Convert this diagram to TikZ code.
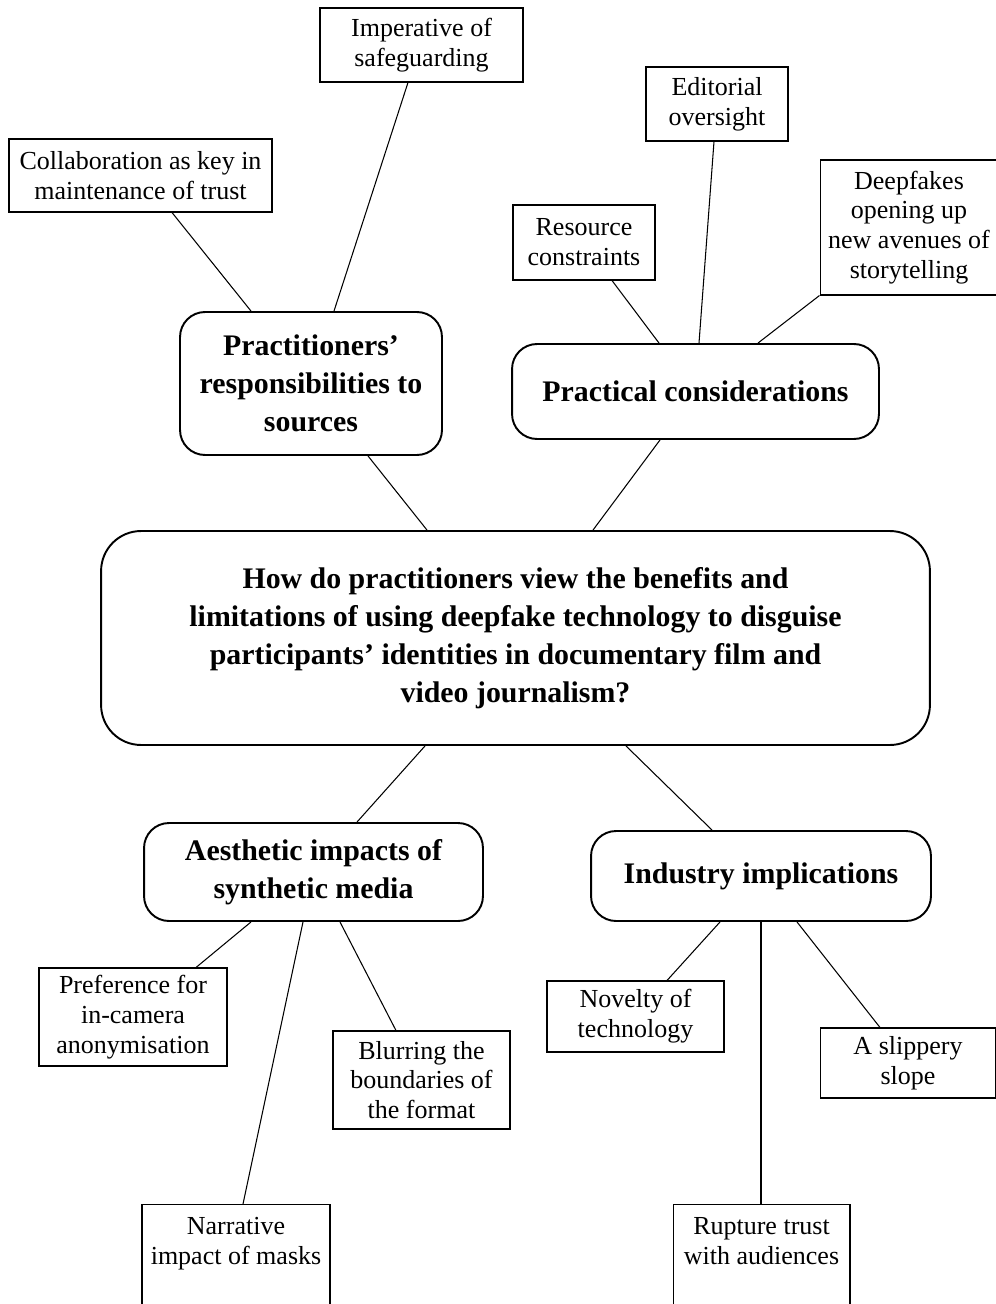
\documentclass[tikz,border=0pt]{standalone}
\usepackage{fontspec}
\setmainfont{Liberation Serif}

\begin{document}
\begin{tikzpicture}[x=0.02cm,y=-0.02cm,line width=0.6pt,
                    leaf/.style={draw,align=center,inner sep=0pt,font=\fontsize{14.8}{17}\selectfont},
                    topic/.style={draw,line width=1.1pt,rounded corners=0.5cm,align=center,inner sep=0pt,
                                  font=\bfseries\fontsize{17}{21.6}\selectfont}
                   ]
  \useasboundingbox (0,0) rectangle (995,1304);
  % centre question
  \node[topic,rounded corners=0.8cm,minimum width=16.58cm,minimum height=4.28cm] (main) at (515.5,638)
    {How do practitioners view the benefits and\\
     limitations of using deepfake technology to disguise\\
     participants’ identities in documentary film and\\
     video journalism?};
  % themes
  \node[topic,minimum width=5.24cm,minimum height=2.86cm] (resp) at (311,383.5) {Practitioners’\\responsibilities to\\sources};
  \node[topic,minimum width=7.34cm,minimum height=1.9cm] (prac) at (695.5,391.5) {Practical considerations};
  \node[topic,minimum width=6.78cm,minimum height=1.96cm] (aes) at (313.5,872) {Aesthetic impacts of\\synthetic media};
  \node[topic,minimum width=6.8cm,minimum height=1.8cm] (ind) at (761,876) {Industry implications};
  % sub-themes
  \node[leaf,minimum width=5.26cm,minimum height=1.46cm] (coll) at (140.5,175.5) {Collaboration as key in\\maintenance of trust};
  \node[leaf,minimum width=4.06cm,minimum height=1.48cm] (imp) at (421.5,45) {Imperative of\\safeguarding};
  \node[leaf,minimum width=2.84cm,minimum height=1.5cm] (res) at (584,242.5) {Resource\\constraints};
  \node[leaf,minimum width=2.84cm,minimum height=1.48cm] (edit) at (717,104) {Editorial\\oversight};
  \node[leaf,minimum width=3.56cm,minimum height=2.7cm] (deep) at (909,227.5) {Deepfakes\\opening up\\new avenues of\\storytelling};
  \node[leaf,minimum width=3.76cm,minimum height=1.96cm] (pref) at (133,1017) {Preference for\\in-camera\\anonymisation};
  \node[leaf,minimum width=3.54cm,minimum height=1.96cm] (blur) at (421.5,1080) {Blurring the\\boundaries of\\the format};
  \node[leaf,minimum width=3.76cm,anchor=north,inner ysep=0.26cm,text depth=0.9cm] (narr) at (236,1204)
    {Narrative\\impact of masks};
  \node[leaf,minimum width=3.54cm,minimum height=1.42cm] (nov) at (635.5,1016.5) {Novelty of\\technology};
  \node[leaf,minimum width=3.52cm,minimum height=1.4cm] (slip) at (908,1063) {A slippery\\slope};
  \node[leaf,minimum width=3.54cm,anchor=north,inner ysep=0.26cm,text depth=0.9cm] (rupt) at (761.5,1204)
    {Rupture trust\\with audiences};
  \path%
    (main.north -| 427,0) edge (resp.south -| 368,0)
    (main.north -| 593,0) edge (prac.south -| 660,0)
    (main.south -| 425,0) edge (aes.north -| 357,0)
    (main.south -| 626,0) edge (ind.north -| 712,0)
    (resp.north -| 251,0) edge (coll.south -| 172,0)
    (resp.north -| 334,0) edge (imp.south -| 408,0)
    (prac.north -| 659,0) edge (res.south -| 612,0)
    (prac.north -| 699,0) edge (edit.south -| 714,0)
    (prac.north -| 758,0) edge (deep.south west)
    (aes.south -| 251,0) edge (pref.north -| 196,0)
    (aes.south -| 303,0) edge (narr.north -| 243,0)
    (aes.south -| 340,0) edge (blur.north -| 396,0)
    (ind.south -| 720,0) edge (nov.north -| 667,0)
    (ind.south -| 761,0) edge (rupt.north -| 761,0)
    (ind.south -| 797,0) edge (slip.north -| 880,0);
\end{tikzpicture}
\end{document}
